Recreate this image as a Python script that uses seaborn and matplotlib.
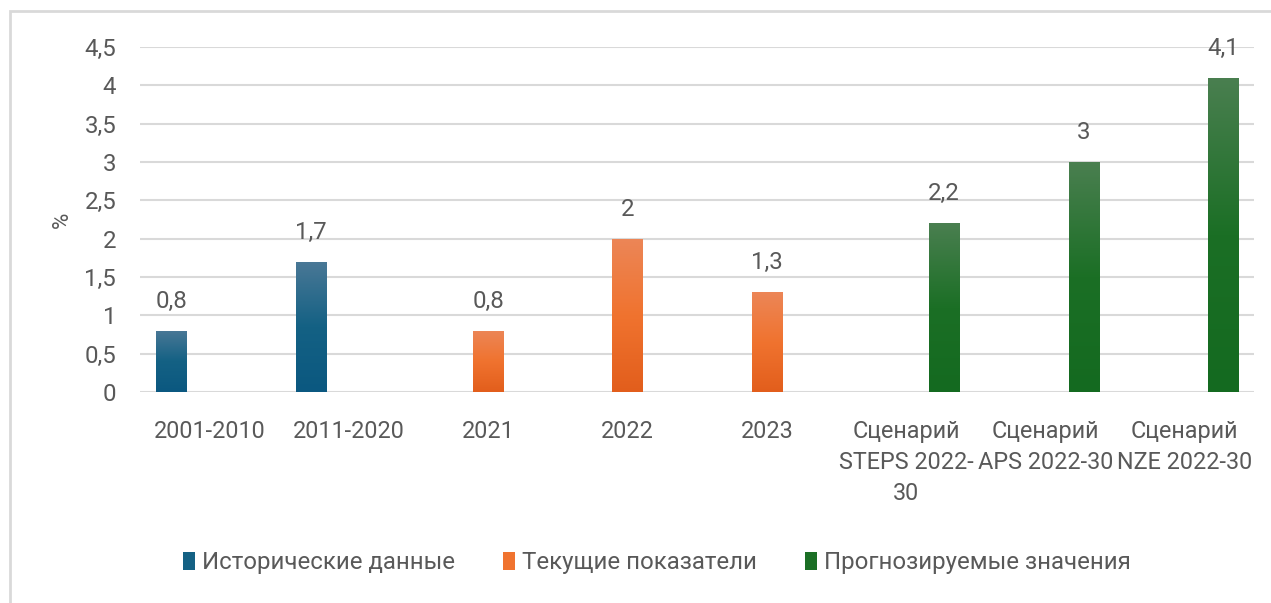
import numpy as np
import pandas as pd
import matplotlib
matplotlib.use("Agg")
import matplotlib.pyplot as plt
import seaborn as sns
from matplotlib.colors import LinearSegmentedColormap
from matplotlib.patches import Rectangle, Patch

categories = ["2001-2010", "2011-2020", "2021", "2022", "2023",
              "Сценарий\nSTEPS 2022-\n30", "Сценарий\nAPS 2022-30", "Сценарий\nNZE 2022-30"]
series_names = ["Исторические данные", "Текущие показатели", "Прогнозируемые значения"]
historical = [0.8, 1.7, None, None, None, None, None, None]
current = [None, None, 0.8, 2.0, 1.3, None, None, None]
forecast = [None, None, None, None, None, 2.2, 3.0, 4.1]
yticks = [0, 0.5, 1, 1.5, 2, 2.5, 3, 3.5, 4, 4.5]

colors_top = ["#4a7896", "#ec8657", "#4a7f50"]
colors_bottom = ["#0b5880", "#e25e1c", "#146a20"]
colors_mid = ["#146184", "#f0732f", "#1b6f25"]

rows = []
for name, vals in zip(series_names, [historical, current, forecast]):
    for c, v in zip(categories, vals):
        rows.append({"cat": c, "series": name, "val": v})
df = pd.DataFrame(rows)

sns.set_theme(style="white")
plt.rcParams["font.family"] = ["Roboto", "DejaVu Sans"]
txt = "#595959"
fs = 17.3

fig = plt.figure(figsize=(12.71, 6.03), dpi=100)
ax = fig.add_axes([0.110, 0.350, 0.877, 0.572])

sns.barplot(data=df, x="cat", y="val", hue="series", order=categories,
            hue_order=series_names, palette=colors_mid, width=0.82, gap=0.21,
            ax=ax, legend=True, edgecolor="none")

ax.set_ylim(0, 4.5)
ax.set_xlim(-0.5, len(categories) - 0.5)
ax.set_yticks(yticks)
ax.set_yticklabels([("%g" % t).replace(".", ",") for t in yticks])
ax.yaxis.grid(True, color="#d9d9d9", linewidth=1.5)
ax.set_axisbelow(True)
for s in ax.spines.values():
    s.set_visible(False)
ax.tick_params(axis="both", length=0, labelsize=fs, colors=txt)
ax.tick_params(axis="x", labelsize=16.8)
ax.tick_params(axis="y", pad=17)
ax.tick_params(axis="x", pad=20)
for lab in ax.get_xticklabels():
    lab.set_linespacing(1.45)
    lab.set_verticalalignment("top")
ax.set_xlabel("")
ax.set_ylabel("%", fontsize=16, color=txt, labelpad=8)

# gradient fills and value labels
for ci, container in enumerate(ax.containers):
    cmap = LinearSegmentedColormap.from_list(
        "g%d" % ci, [colors_bottom[ci], colors_mid[ci], colors_top[ci]])
    for bar in container:
        h = bar.get_height()
        if h is None or np.isnan(h) or h == 0:
            continue
        x0, w = bar.get_x(), bar.get_width()
        grad = np.linspace(0, 1, 256).reshape(-1, 1)
        im = ax.imshow(grad, extent=[x0, x0 + w, 0, h], origin="lower",
                       cmap=cmap, aspect="auto", zorder=3)
        im.set_clip_path(bar)
        bar.set_facecolor("none")
        ax.annotate(("%g" % h).replace(".", ","), (x0 + w / 2, h),
                    xytext=(0, 13), textcoords="offset points",
                    ha="center", va="bottom", fontsize=fs, color=txt,
                    annotation_clip=False)
ax.set_xlim(-0.5, len(categories) - 0.5)
ax.set_ylim(0, 4.5)

ax.legend_.remove()
handles = [Patch(facecolor=colors_mid[i], edgecolor="none") for i in range(3)]
fig.legend(handles, series_names, loc="center", bbox_to_anchor=(0.517, 0.067),
           ncol=3, frameon=False, fontsize=fs, labelcolor=txt,
           handlelength=0.5, handleheight=0.75, handletextpad=0.3,
           columnspacing=2.0)

fig.patches.append(Rectangle((10 / 1271, -0.1), 1.2, 1 - 11 / 603 + 0.1,
                             transform=fig.transFigure, fill=False,
                             edgecolor="#d9d9d9", linewidth=2))

fig.savefig("out.png", dpi=100)
